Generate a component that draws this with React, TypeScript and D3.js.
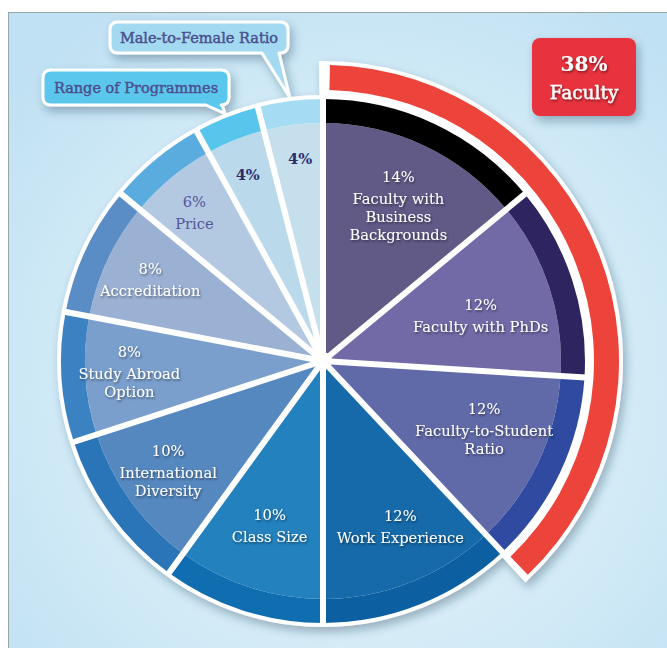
import React from "react";
import * as d3 from "d3";

// ---- data ----
const categories = [
  "Faculty with Business Backgrounds",
  "Faculty with PhDs",
  "Faculty-to-Student Ratio",
  "Work Experience",
  "Class Size",
  "International Diversity",
  "Study Abroad Option",
  "Accreditation",
  "Price",
  "Range of Programmes",
  "Male-to-Female Ratio",
];
const values = [14, 12, 12, 12, 10, 10, 8, 8, 6, 4, 4];
const labelLines = [
  ["Faculty with", "Business", "Backgrounds"],
  ["Faculty with PhDs"],
  ["Faculty-to-Student", "Ratio"],
  ["Work Experience"],
  ["Class Size"],
  ["International", "Diversity"],
  ["Study Abroad", "Option"],
  ["Accreditation"],
  ["Price"],
  [],
  [],
];
const calloutCategories = ["Male-to-Female Ratio", "Range of Programmes"];
const groupLabel = "Faculty";
const groupSize = 3; // first three categories form the Faculty group

// ---- styles ----
const innerColors = [
  "#665f8e", "#7770b0", "#6670b2", "#1770b2", "#2588c8", "#5a8fca",
  "#80a7d8", "#a2badf", "#bcd2ed", "#c4e4f6", "#d0ebf8",
];
const bandColors = [
  "#000000", "#2e2560", "#2f4aa0", "#0c60a2", "#0f6db0", "#2a74b8",
  "#3b82c3", "#5a8cc6", "#5aacdf", "#58c6ec", "#a6dcf3",
];
const textColors = [
  "#ffffff", "#ffffff", "#ffffff", "#ffffff", "#ffffff", "#ffffff",
  "#ffffff", "#ffffff", "#55559a", "#2d2b6e", "#2d2b6e",
];
const labelRadius = [172, 164, 175, 183, 173, 190, 194, 191, 196, 201, 203];
const labelAngleShift = [0.8, 2, -2.2, -3.4, 0, 0.6, 0.4, 0, -1.4, -0.4, 0.7]; // degrees
const calloutFills = ["#a3daf2", "#5bc7ec"];

const FONT = "DejaVu Serif";

function calloutPath(x: number, y: number, w: number, h: number, r: number, b1: number, b2: number, px: number, py: number) {
  return [
    `M${x + r},${y}`,
    `H${x + w - r}`,
    `Q${x + w},${y} ${x + w},${y + r}`,
    `V${y + h - r}`,
    `Q${x + w},${y + h} ${x + w - r},${y + h}`,
    `H${b2}`,
    `L${px},${py}`,
    `L${b1},${y + h}`,
    `H${x + r}`,
    `Q${x},${y + h} ${x},${y + h - r}`,
    `V${y + r}`,
    `Q${x},${y} ${x + r},${y}`,
    "Z",
  ].join(" ");
}

export default function App() {
  const W = 667, H = 648;
  const cx = 323, cy = 361;
  const R = 262;
  const bandInner = 238;
  const ringIn = 271, ringOut = 296;

  const arcs = d3.pie<number>().sort(null).value((d) => d).startAngle(0).endAngle(2 * Math.PI)(values);
  const arcInner = d3.arc<any>().innerRadius(0).outerRadius(bandInner);
  const arcBand = d3.arc<any>().innerRadius(bandInner).outerRadius(R);
  const groupEnd = arcs[groupSize - 1].endAngle;
  const groupValue = d3.sum(values.slice(0, groupSize));

  const backing = d3.arc<any>()({ innerRadius: R - 2, outerRadius: ringOut + 4, startAngle: -4 / ringOut, endAngle: groupEnd + 4 / ringOut })!;
  const ring = d3.arc<any>()({ innerRadius: ringIn, outerRadius: ringOut, startAngle: 7 / ringOut, endAngle: groupEnd - 3 / ringOut })!;

  const polar = (a: number, r: number): [number, number] => [Math.sin(a) * r, -Math.cos(a) * r];

  const callouts = [
    { box: [110, 22, 178, 31], base: [262, 279] },
    { box: [43, 70, 186, 35], base: [206, 222] },
  ];

  return (
    <svg width={W} height={H} style={{ position: "absolute", left: 0, top: 0 }} fontFamily={FONT}>
      <defs>
        <radialGradient id="bg" gradientUnits="userSpaceOnUse" cx={360} cy={390} r={460}>
          <stop offset="0" stopColor="#e8f4fa" />
          <stop offset="0.55" stopColor="#d5ecf7" />
          <stop offset="1" stopColor="#c0e1f3" />
        </radialGradient>
        {innerColors.map((c, i) => {
          const light = d3.interpolateRgb(c, "#ffffff")(0.45);
          const dark = d3.interpolateRgb(c, "#000000")(0.05);
          return (
            <radialGradient key={i} id={`g${i}`} gradientUnits="userSpaceOnUse" cx={cx} cy={cy} r={bandInner}>
              <stop offset="0" stopColor={light} />
              <stop offset="0.7" stopColor={c} />
              <stop offset="1" stopColor={dark} />
            </radialGradient>
          );
        })}
        <filter id="shadow" x="-20%" y="-20%" width="140%" height="140%">
          <feDropShadow dx="3" dy="5" stdDeviation="5" floodColor="#1a3a55" floodOpacity="0.35" />
        </filter>
        <filter id="tshadow" x="-20%" y="-40%" width="140%" height="180%">
          <feDropShadow dx="1" dy="1.5" stdDeviation="1" floodColor="#000" floodOpacity="0.5" />
        </filter>
      </defs>

      <rect x={0} y={0} width={W} height={H} fill="#ffffff" />
      <rect x={8.5} y={12.5} width={W} height={H} fill="url(#bg)" stroke="#9aa4ab" strokeWidth={1} />

      {/* callouts */}
      {calloutCategories.map((name, k) => {
        const idx = categories.indexOf(name);
        const a = (arcs[idx].startAngle + arcs[idx].endAngle) / 2;
        const [tx, ty] = polar(a, R + 4);
        const [x, y, w, h] = callouts[k].box;
        const [b1, b2] = callouts[k].base;
        return (
          <g key={name}>
            <path d={calloutPath(x, y, w, h, 8, b1, b2, cx + tx, cy + ty)} fill={calloutFills[k]} stroke="#ffffff" strokeWidth={3} strokeLinejoin="round" filter="url(#shadow)" />
            <text x={x + w / 2} y={y + h / 2 + 5} textAnchor="middle" fontSize={14.5} fill="#4b4f8f" stroke="#4b4f8f" strokeWidth={0.45}>{name}</text>
          </g>
        );
      })}

      {/* white backing with shadow */}
      <g filter="url(#shadow)">
        <circle cx={cx} cy={cy} r={R + 4} fill="#ffffff" />
        <path d={backing} transform={`translate(${cx},${cy})`} fill="#ffffff" />
      </g>
      <path d={ring} transform={`translate(${cx},${cy})`} fill="#ec433a" />

      {/* slices */}
      <g transform={`translate(${cx},${cy})`}>
        {arcs.map((d, i) => (
          <g key={i}>
            <path d={arcInner(d)!} fill={`url(#g${i})`} />
            <path d={arcBand(d)!} fill={bandColors[i]} />
          </g>
        ))}
        {arcs.map((d, i) => {
          const [x2, y2] = polar(d.startAngle, R + 1);
          return <line key={i} x1={0} y1={0} x2={x2} y2={y2} stroke="#ffffff" strokeWidth={6} />;
        })}
        <circle r={9} fill="#ffffff" />

        {arcs.map((d, i) => {
          const a = (d.startAngle + d.endAngle) / 2 + (labelAngleShift[i] * Math.PI) / 180;
          const [lx, ly] = polar(a, labelRadius[i]);
          const lines = labelLines[i];
          const blockH = lines.length ? 22 + 18 * (lines.length - 1) : 0;
          const y0 = ly - blockH / 2;
          const white = textColors[i] === "#ffffff";
          const bold = lines.length === 0;
          return (
            <g key={i} fill={textColors[i]} textAnchor="middle" fontSize={14.7} filter={white ? "url(#tshadow)" : undefined}>
              <text x={lx} y={y0 + 5} fontWeight={bold ? 700 : 400}>{`${values[i]}%`}</text>
              {lines.map((t, j) => (
                <text key={j} x={lx} y={y0 + 22 + 18 * j + 5}>{t}</text>
              ))}
            </g>
          );
        })}
      </g>

      {/* group box */}
      <rect x={532} y={38} width={104} height={78} rx={8} fill="#e8333d" filter="url(#shadow)" />
      <g fill="#ffffff" textAnchor="middle" filter="url(#tshadow)">
        <text x={584} y={71} fontSize={20} fontWeight={700}>{`${groupValue}%`}</text>
        <text x={584} y={99} fontSize={18.5} stroke="#ffffff" strokeWidth={0.4}>{groupLabel}</text>
      </g>
    </svg>
  );
}
